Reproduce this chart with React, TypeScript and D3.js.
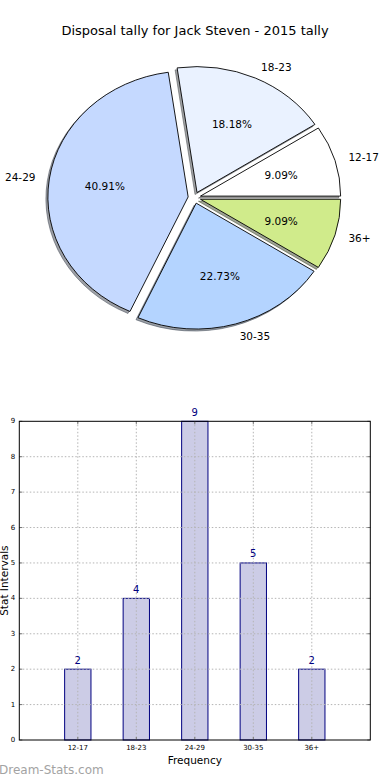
import * as d3 from "d3";
import React from "react";

// chart data
const title = "Disposal tally for Jack Steven - 2015 tally";
const categories = ["12-17", "18-23", "24-29", "30-35", "36+"];
const counts = [2, 4, 9, 5, 2];
const sliceColors = ["#ffffff", "#eaf2ff", "#c5d9ff", "#b4d4ff", "#d0eb8b"];
const yTicks = [0, 1, 2, 3, 4, 5, 6, 7, 8, 9];
const xLabel = "Frequency";
const yLabel = "Stat Intervals";
const watermark = "Dream-Stats.com";

const width = 390;
const height = 780;
const font = "DejaVu Sans";

// pie geometry (matplotlib pie without equal aspect -> ellipse)
const cx = 194.4;
const cy = 197.7;
const rx = 140.2;
const ry = 125.9;
const explode = 0.045;

// bar axes box
const bar = { left: 19.3, right: 370.3, top: 421.3, bottom: 740 };

function PieChart() {
    const pie = d3
        .pie<number>()
        .sort(null)
        .startAngle(Math.PI / 2)
        .endAngle(Math.PI / 2 - 2 * Math.PI);
    const arcs = pie(counts);
    const arcGen = d3.arc<d3.PieArcDatum<number>>().innerRadius(0).outerRadius(1);
    const total = d3.sum(counts);
    const pct = d3.format(".2%");

    const wedges = arcs.map((a, i) => {
        const mid = (a.startAngle + a.endAngle) / 2;
        const ux = Math.sin(mid);
        const uy = -Math.cos(mid);
        const ox = cx + explode * rx * ux;
        const oy = cy + explode * ry * uy;
        return { a, i, ux, uy, ox, oy };
    });

    return (
        <g>
            {wedges.map(({ a, i, ox, oy }) => {
                const c = d3.rgb(sliceColors[i]);
                const sh = d3.rgb(c.r * 0.3, c.g * 0.3, c.b * 0.3).toString();
                return (
                    <path
                        key={"s" + i}
                        transform={`translate(${ox - 2},${oy + 2}) scale(${rx},${ry})`}
                        d={arcGen(a) || undefined}
                        fill={sh}
                        fillOpacity={0.5}
                        stroke={sh}
                        strokeOpacity={0.5}
                        strokeWidth={1}
                        vectorEffect="non-scaling-stroke"
                    />
                );
            })}
            {wedges.map(({ a, i, ox, oy }) => (
                <path
                    key={"w" + i}
                    transform={`translate(${ox},${oy}) scale(${rx},${ry})`}
                    d={arcGen(a) || undefined}
                    fill={sliceColors[i]}
                    stroke="#000"
                    strokeWidth={0.9}
                    vectorEffect="non-scaling-stroke"
                />
            ))}
            {wedges.map(({ i, ux, uy, ox, oy }) => {
                const lx = ox + 1.1 * rx * ux;
                const ly = oy + 1.1 * ry * uy;
                return (
                    <text
                        key={"l" + i}
                        x={lx}
                        y={ly}
                        textAnchor={lx > cx ? "start" : "end"}
                        dominantBaseline="central"
                        fontSize={10.5}
                        fontFamily={font}
                        fill="#000"
                    >
                        {categories[i]}
                    </text>
                );
            })}
            {wedges.map(({ i, ux, uy, ox, oy }) => (
                <text
                    key={"p" + i}
                    x={ox + 0.6 * rx * ux}
                    y={oy + 0.6 * ry * uy}
                    textAnchor="middle"
                    dominantBaseline="central"
                    fontSize={10.5}
                    fontFamily={font}
                    fill="#000"
                >
                    {pct(counts[i] / total)}
                </text>
            ))}
        </g>
    );
}

function BarChart() {
    const xScale = d3.scaleLinear().domain([-1, 5]).range([bar.left, bar.right]);
    const yScale = d3.scaleLinear().domain([0, 9]).range([bar.bottom, bar.top]);
    const barW = 0.45;
    const gridStyle = { stroke: "#b4b4b4", strokeWidth: 1, strokeDasharray: "1.5,2" };

    return (
        <g>
            {categories.map((c, i) => (
                <rect
                    key={c}
                    x={xScale(i - barW / 2)}
                    y={yScale(counts[i])}
                    width={xScale(i + barW / 2) - xScale(i - barW / 2)}
                    height={yScale(0) - yScale(counts[i])}
                    fill="#cccce6"
                    stroke="#000080"
                    strokeWidth={1}
                />
            ))}
            {yTicks.slice(1, -1).map((t) => (
                <line key={"gy" + t} x1={bar.left} x2={bar.right} y1={yScale(t)} y2={yScale(t)} {...gridStyle} />
            ))}
            {categories.map((c, i) => (
                <line key={"gx" + c} x1={xScale(i)} x2={xScale(i)} y1={bar.top} y2={bar.bottom} {...gridStyle} />
            ))}
            {yTicks.map((t) => (
                <g key={"ty" + t}>
                    <line x1={bar.left} x2={bar.left + 3} y1={yScale(t)} y2={yScale(t)} stroke="#777" />
                    <line x1={bar.right - 3} x2={bar.right} y1={yScale(t)} y2={yScale(t)} stroke="#777" />
                    <text
                        x={bar.left - 4}
                        y={yScale(t)}
                        textAnchor="end"
                        dominantBaseline="central"
                        fontSize={7}
                        fontFamily={font}
                        fill="#000"
                    >
                        {t}
                    </text>
                </g>
            ))}
            {categories.map((c, i) => (
                <g key={"tx" + c}>
                    <line x1={xScale(i)} x2={xScale(i)} y1={bar.bottom} y2={bar.bottom - 3} stroke="#777" />
                    <line x1={xScale(i)} x2={xScale(i)} y1={bar.top} y2={bar.top + 3} stroke="#777" />
                    <text x={xScale(i)} y={bar.bottom + 10} textAnchor="middle" fontSize={7} fontFamily={font} fill="#000">
                        {c}
                    </text>
                </g>
            ))}
            {categories.map((c, i) => (
                <text
                    key={"v" + c}
                    x={xScale(i)}
                    y={yScale(counts[i]) - 5.5}
                    textAnchor="middle"
                    fontSize={10}
                    fontFamily={font}
                    fill="#000080"
                >
                    {counts[i]}
                </text>
            ))}
            <rect
                x={bar.left}
                y={bar.top}
                width={bar.right - bar.left}
                height={bar.bottom - bar.top}
                fill="none"
                stroke="#000"
                strokeWidth={1}
            />
            <text x={(bar.left + bar.right) / 2} y={764} textAnchor="middle" fontSize={10.5} fontFamily={font} fill="#000">
                {xLabel}
            </text>
            <text
                transform={`translate(8,${(bar.top + bar.bottom) / 2}) rotate(-90)`}
                textAnchor="middle"
                fontSize={10.5}
                fontFamily={font}
                fill="#000"
            >
                {yLabel}
            </text>
        </g>
    );
}

export default function App() {
    return (
        <svg
            width={width}
            height={height}
            style={{ position: "absolute", left: 0, top: 0, background: "#fff" }}
        >
            <rect width={width} height={height} fill="#fff" />
            <text x={width / 2} y={35} textAnchor="middle" fontSize={13} fontFamily={font} fill="#000">
                {title}
            </text>
            <PieChart />
            <BarChart />
            <text x={-1} y={774} fontSize={12} fontFamily={font} fill="#a3a3a3">
                {watermark}
            </text>
        </svg>
    );
}
